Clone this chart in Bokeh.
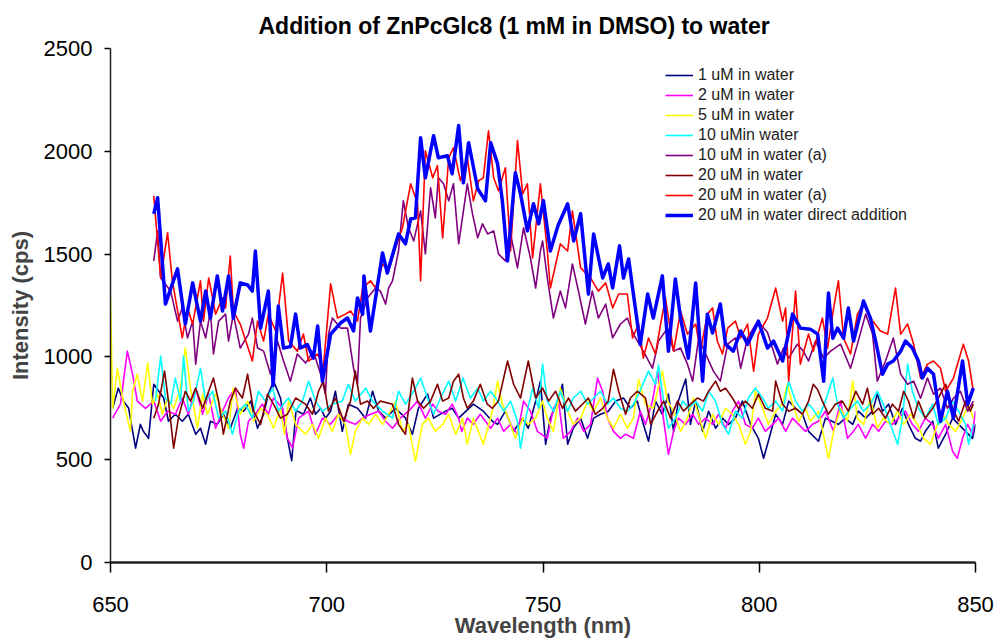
from bokeh.plotting import figure
from bokeh.models import Range1d, Legend, LegendItem, FixedTicker
from bokeh.embed import file_html
from bokeh.resources import INLINE

# ---------------- data ----------------
wl_1uM = [650.5, 651.8, 653, 654.2, 655.8, 656.9, 657.6, 658.8, 660, 662.3, 663.4, 665, 666.6, 668, 669.7, 670.8, 672, 673.1,
          674.7, 676.1, 677.7, 679.4, 680.8, 682.4, 684, 685.4, 686.5, 687.7, 689.3, 690.9, 691.9, 692.9, 694.6, 696.2, 697.4,
          698.6, 699.7, 700.9, 702, 703.6, 705, 707.1, 709, 710.6, 712, 713.6, 715.9, 718.2, 719.8, 721.2, 723.3, 724.7, 727.5,
          729, 730.5, 733.9, 736.2, 738.3, 739.5, 741.3, 743.2, 745.3, 746.6, 748.3, 749.4, 750.6, 751.7, 753.4, 754.5, 755.7,
          757, 758.7, 760.3, 761.7, 763.3, 765.1, 766.8, 768.6, 770.2, 771.8, 773, 774.4, 776, 777.6, 779, 780.2, 781.3, 783,
          784.1, 785.3, 786.9, 788.3, 789.9, 791.5, 792.9, 794.5, 796.1, 798, 799.8, 801, 802.1, 803.8, 805.4, 806.8, 808.4,
          810, 811.4, 813.7, 815.3, 818.3, 819.9, 821.6, 822.9, 824.6, 826.2, 827.3, 828.5, 829.9, 831.5, 833.1, 834.5, 836.1,
          837.3, 838.4, 840.1, 841.4, 843.1, 844.7, 846.1, 847.7, 849.3, 850]
int_1uM = [750, 848, 785, 750, 556, 672, 638, 604, 867, 800, 687, 721, 687, 721, 624, 653, 575, 687,
           672, 721, 653, 750, 736, 785, 653, 721, 819, 882, 800, 604, 495, 740, 721, 800, 721,
           750, 702, 736, 833, 638, 770, 750, 702, 833, 736, 702, 750, 702, 624, 750, 819, 702, 736,
           750, 702, 770, 736, 687, 672, 736, 638, 702, 653, 785, 882, 575, 702, 785, 867, 575,
           653, 702, 604, 702, 721, 736, 785, 800, 750, 785, 687, 590, 785, 721, 819, 638, 785, 892,
           672, 785, 638, 736, 653, 702, 672, 702, 785, 672, 604, 507, 590, 721, 672, 785, 750,
           721, 638, 590, 702, 672, 702, 672, 736, 702, 736, 819, 736, 770, 672, 750, 672, 604,
           590, 638, 687, 556, 624, 702, 672, 638, 604, 672]

wl_2uM = [650.5, 652.3, 653.9, 655.1, 656.2, 658.1, 660, 661.6, 663.2, 665, 666.6, 668, 669.7, 671.3, 672.7, 674.3, 675.9,
          677.3, 678.9, 680, 680.8, 681.9, 683.5, 685.1, 686.5, 687.7, 689.8, 690.9, 692.1, 693.5, 695.8, 697.4, 699, 700.9,
          702.7, 704.8, 706.6, 708.3, 710.1, 712, 713.6, 715.2, 717, 718.9, 721, 722.8, 724.5, 725.8, 727.5, 729, 730.5,
          731.2, 732.5, 733.9, 735.5, 737.9, 739.5, 740.9, 742.5, 744.1, 745.5, 747.1, 748.7, 751, 752.4, 753.6, 754.7, 756.4,
          758, 759.4, 761, 762.6, 763.8, 764.9, 766.3, 767.9, 769.1, 770.9, 772.5, 773.7, 775.3, 776.5, 777.6, 779, 780.2,
          781.3, 783, 784.6, 786, 787.6, 789.2, 790.6, 792.2, 793.8, 795.2, 796.8, 798.4, 799.8, 801.4, 803.1, 804.5, 806.1,
          807.7, 809.1, 810.7, 812.3, 813.7, 815.3, 817.2, 818.8, 820.4, 821.8, 822.9, 824.6, 826.2, 827.6, 829.2, 830.8,
          832.2, 833.8, 835.4, 836.8, 838.4, 840.1, 841.4, 843.1, 844.7, 845.8, 847, 848.2, 849.3, 850]
int_2uM = [702, 770, 1028, 916, 785, 750, 785, 687, 736, 721, 800, 721, 848, 721, 819, 653, 736,
           800, 848, 624, 556, 687, 721, 770, 721, 800, 750, 604, 556, 702, 736, 624, 702, 672,
           721, 687, 672, 702, 721, 736, 687, 653, 702, 736, 785, 702, 770, 736, 721, 770, 702,
           638, 702, 672, 721, 653, 702, 638, 672, 624, 785, 736, 638, 604, 750, 785, 604, 638,
           702, 638, 672, 897, 833, 702, 638, 604, 624, 604, 736, 672, 785, 931, 736, 526, 638,
           702, 672, 721, 672, 702, 672, 721, 653, 736, 785, 672, 653, 702, 638, 672, 702, 638,
           702, 672, 638, 672, 687, 736, 638, 785, 604, 638, 672, 604, 672, 638, 687, 672,
           702, 736, 672, 638, 702, 672, 604, 672, 541, 507, 604, 672, 624, 736]

wl_5uM = [650, 650.5, 651.6, 652.8, 654.6, 655.1, 656.2, 657.4, 658.6, 659.7, 660.9, 662, 663.2, 664.6, 666.2, 667.3, 668.5,
          670.1, 671.3, 672.4, 674.3, 675.9, 677.3, 678.4, 680, 681.7, 683.1, 684.7, 686.3, 687.7, 689.3, 690.2, 691.2, 692.8,
          695.1, 696.7, 698.1, 699.7, 701.3, 702.7, 704.3, 705.5, 706.6, 708.3, 709.7, 711.3, 712.9, 714.3, 715.9, 717.5,
          718.9, 720.5, 722.1, 723.5, 725.1, 726.8, 728.2, 729.8, 731.4, 732.5, 733.9, 736.2, 738.3, 739.5, 740.6, 742, 743.6,
          745.3, 746.6, 748.3, 749.9, 751, 752.4, 754, 755.7, 757, 758.7, 760.3, 761.7, 763.3, 764.9, 766.3, 767.9, 769.5,
          770.9, 772.1, 773.7, 775.5, 777.6, 778.8, 780.2, 781.8, 783.4, 784.8, 786.4, 787.6, 789.2, 790.6, 792.2, 793.8,
          795.2, 796.8, 798, 799.1, 800.8, 802.1, 803.8, 805.4, 806.5, 807.7, 809.1, 810.7, 811.8, 813.7, 815.3, 816, 817.2,
          818.8, 820.4, 821.6, 822.7, 824.1, 825.7, 827.3, 828.7, 830.3, 832, 833.4, 835, 836.6, 838, 839.6, 841.2, 842.4,
          843.8, 845.4, 847, 848.4, 849.5]
int_5uM = [1290, 750, 945, 800, 638, 833, 916, 785, 970, 770, 819, 721, 800, 750, 848, 1043, 848,
           653, 819, 721, 819, 721, 653, 848, 721, 785, 687, 750, 721, 653, 750, 624, 785, 672,
           624, 672, 604, 702, 638, 721, 672, 526, 638, 702, 672, 721, 672, 721, 785, 638,
           672, 492, 672, 702, 638, 672, 721, 624, 702, 575, 702, 575, 736, 882, 770, 702, 604,
           702, 672, 702, 785, 702, 638, 848, 736, 672, 702, 785, 736, 800, 702, 653, 721, 653,
           702, 890, 770, 750, 931, 785, 736, 638, 702, 800, 687, 604, 721, 672, 750, 721,
           672, 575, 638, 833, 750, 672, 736, 770, 867, 770, 687, 750, 687, 736, 575, 507, 638,
           750, 687, 882, 702, 672, 800, 653, 702, 672, 736, 672, 721, 672, 604, 575, 672, 721,
           672, 638, 702, 770, 702]

wl_10uM = [660.4, 661.6, 662.7, 663.9, 665, 666.2, 666.9, 668, 669.2, 670.8, 672, 673.6, 675, 676.6, 678.2, 679.6, 681.2,
           682.8, 684.2, 685.8, 687.5, 688.8, 690.5, 691.2, 692.8, 694.4, 695.8, 697.4, 699, 701.3, 703.6, 705, 706.6, 709,
           710.6, 712.9, 715.2, 716.6, 718.2, 720.1, 721.7, 723.3, 724.7, 726.3, 728.2, 729.8, 731.5, 733.2, 734.9, 736.2,
           737.9, 739.5, 740.9, 742.5, 744.1, 744.8, 746, 747.6, 749, 749.9, 751, 752.4, 754, 755.7, 757, 758.7, 760.3, 761.7,
           763.3, 764.9, 766.3, 767.9, 769.5, 770.9, 772.1, 774.4, 776, 776.7, 777.9, 779, 780.6, 782.3, 783.6, 785.3, 786.9,
           788.3, 789.9, 791.5, 792.9, 794.5, 796.1, 797.5, 799.1, 800.8, 802.1, 803.8, 805.4, 806.8, 808.4, 810, 811.4,
           812.3, 813.7, 815.3, 817, 818.1, 819.5, 821.1, 822.7, 824.1, 825.7, 827.3, 828.7, 830.3, 832, 833.1, 834.3, 835.4,
           836.8, 838.4, 840.1, 841.4, 843.1, 844.7, 846.1, 847.7, 848.4, 849.5]
int_10uM = [785, 1004, 800, 770, 897, 785, 1004, 736, 785, 945, 785, 833, 702, 736, 624, 736, 770,
            702, 833, 785, 848, 736, 785, 800, 736, 785, 882, 785, 736, 770, 785, 867, 785, 848,
            785, 736, 702, 833, 770, 833, 897, 800, 721, 800, 882, 785, 897, 800, 848, 785,
            833, 785, 736, 785, 687, 556, 702, 848, 750, 965, 785, 736, 833, 736, 800, 833, 770, 800,
            833, 770, 800, 750, 736, 770, 819, 931, 867, 960, 785, 653, 702, 785, 750, 785, 736,
            833, 785, 672, 624, 736, 702, 800, 848, 800, 750, 785, 736, 882, 785, 736, 770,
            750, 702, 785, 897, 770, 702, 750, 785, 736, 770, 833, 770, 672, 575, 702, 965, 833,
            750, 702, 770, 672, 702, 785, 736, 672, 575, 672]

wl_10uMa = [660, 660.9, 661.6, 663.9, 665.5, 666.6, 667.8, 669, 669.7, 670.8, 672, 673.1, 673.8, 675, 676.6, 677.3, 678.4,
            680, 681.9, 682.8, 684, 685.4, 687, 688.6, 690, 691.6, 693.2, 695.1, 696.9, 698.6, 699.7, 700.4, 701.3, 703.2,
            704.8, 706.2, 707.1, 707.8, 709.4, 711.3, 712.4, 713.6, 714.3, 715.2, 716.6, 717.7, 718.9, 720.1, 721.7, 722.8,
            724, 725.1, 725.8, 727, 728.2, 729.3, 730.5, 732.5, 733.7, 734.9, 736, 737.2, 738.6, 739.7, 741.3, 742.5, 744.1,
            745.5, 747.1, 748.3, 749.4, 749.9, 751, 752.4, 754, 755.2, 756.8, 758.2, 759.8, 761.4, 762.8, 764.5, 766.1,
            767.9, 769.5, 770.9, 773.2, 775.3, 776.7, 778.8, 780.2, 781.8, 783.4, 784.6, 786, 787.6, 789.4, 791, 792.7,
            794.5, 795.7, 797.3, 799.6, 801.9, 804.2, 805.6, 806.8, 808.8, 810.2, 811.4, 813, 814.9, 816.5, 818.8, 821.1,
            822.7, 824.6, 826.2, 827.3, 829.2, 831, 832.7, 834.3, 835.7, 837.3, 838.9, 840.3, 841.9, 843.5, 844.9, 846.5,
            848.2, 849.5]
int_10uMa = [1467, 1613, 1384, 1320, 1174, 1238, 1092, 1174, 965, 1174, 1092, 1223, 1014, 1174, 1208, 1077, 1208,
             1043, 1111, 1189, 1043, 1028, 916, 1077, 980, 882, 1014, 970, 1028, 916, 819, 1111, 1189, 1140,
             1140, 945, 867, 1189, 1287, 1335, 1320, 1257, 1335, 1370, 1515, 1759, 1628, 1564, 1710, 1501,
             1823, 1676, 1871, 1842, 1759, 1842, 1550, 1842, 1696, 1579, 1647, 1598, 1613, 1501, 1467, 1598, 1433,
             1628, 1481, 1335, 1515, 1564, 1384, 1189, 1320, 1238, 1452, 1320, 1160, 1320, 1189, 1257, 1092,
             1160, 1189, 1111, 1028, 945, 1077, 1140, 1028, 1043, 965, 882, 1092, 1014, 931, 882, 1062,
             1092, 945, 1092, 1174, 1120, 965, 1043, 994, 1062, 1028, 980, 1077, 994, 1028, 1062, 945,
             1062, 1208, 1111, 882, 980, 1092, 916, 867, 882, 799, 897, 819, 848, 750, 799, 833,
             736, 785]

wl_20uM = [660, 661.1, 662.5, 663.4, 664.6, 665.7, 667.3, 668.5, 669.7, 671.3, 672.7, 673.8, 675, 676.1, 677.7, 678.9,
           680.5, 681.7, 683.1, 684.7, 686.3, 687.7, 689.3, 690.9, 692.8, 695.1, 696.7, 698.1, 699.2, 700.4, 702, 703.9,
           705.5, 706.6, 707.8, 709.4, 710.8, 712.4, 715.2, 716.6, 718.2, 719.8, 721, 722.4, 724, 725.6, 726.8, 728.2,
           729.3, 730.5, 731.6, 732.5, 733.9, 735.5, 737.1, 738.3, 739.7, 741.8, 743.2, 744.8, 746.6, 748.3, 749.9, 751.3,
           752.9, 754.5, 755.9, 757.5, 759.1, 760.5, 762.1, 763.8, 765.1, 766.3, 767.5, 769.1, 770.2, 771.8, 773.7, 774.9,
           776.5, 777.9, 779.5, 781.1, 782.5, 784.1, 785.7, 787.1, 788.3, 789.9, 791, 792.2, 793.8, 795.2, 796.8, 798.4,
           799.8, 801.4, 803.1, 803.8, 805.4, 806.8, 808.4, 810, 811.4, 812.5, 813.5, 814.6, 816, 817.6, 819.2, 820.6,
           822.3, 823.9, 825, 826.2, 827.6, 829.2, 830.8, 832.2, 833.4, 834.5, 835.7, 836.8, 838.4, 840.1, 841.4, 843.1,
           844.7, 846.1, 847.7, 848.8, 849.5]
int_20uM = [702, 770, 931, 785, 556, 702, 833, 785, 848, 750, 833, 897, 785, 624, 785, 848,
            800, 916, 736, 672, 819, 770, 702, 721, 800, 770, 721, 833, 882, 736, 800, 687,
            785, 931, 770, 785, 750, 785, 770, 672, 624, 897, 785, 750, 785, 867, 785, 800,
            882, 916, 800, 750, 785, 867, 770, 750, 785, 980, 867, 800, 980, 800, 848, 785,
            833, 750, 800, 736, 770, 800, 721, 750, 785, 940, 833, 721, 800, 833, 800, 672,
            736, 785, 702, 785, 736, 770, 800, 785, 833, 882, 833, 848, 800, 750, 785, 750,
            819, 750, 736, 882, 770, 736, 750, 721, 785, 867, 840, 785, 721, 770, 785, 736,
            833, 770, 848, 721, 750, 702, 770, 736, 833, 785, 702, 785, 702, 750, 800, 867,
            750, 687, 785, 736, 770]

wl_20uMa = [660, 661.6, 663.2, 664.3, 666.6, 667.8, 669, 670.8, 671.5, 672.7, 674.3, 675.9, 676.6, 677.7, 678.4, 680,
            682.8, 684, 685.4, 686.5, 688.2, 689.8, 691.2, 693.2, 694.6, 695.8, 697.9, 699.2, 700.9, 702.5, 704.3, 705.5,
            707.1, 708.3, 710.1, 711.3, 712.9, 714.3, 715.9, 717.5, 719.4, 721, 721.7, 722.8, 724.5, 725.6, 726.8, 728.2,
            729.3, 730.9, 732.5, 733.9, 735.1, 736.2, 737.4, 738.6, 739.7, 741.3, 742.5, 744.1, 745.3, 746.4, 747.6, 749.4,
            751, 751.7, 754, 755.7, 756.8, 758.7, 761, 762.8, 764.5, 766.1, 767.5, 769.5, 770.7, 772.1, 773.2, 774.4, 776,
            777.2, 778.3, 780.2, 781.8, 783.4, 785.3, 786.4, 788, 789.2, 790.3, 791.5, 792.7, 794.5, 795.7, 797.3, 798.7,
            799.8, 801.9, 803.8, 805.4, 806.1, 806.8, 808.4, 809.5, 811.4, 812.5, 814.6, 815.8, 817.2, 818.3, 819.5, 821.1,
            822.7, 824.1, 825.7, 828, 829.7, 831.5, 832.7, 834.3, 835.7, 837.3, 838.9, 840.3, 841.9, 843.1, 844.9, 847.2,
            848.4, 849.5]
int_20uMa = [1784, 1384, 1603, 1370, 1092, 1238, 1160, 1370, 1174, 1384, 1208, 1287, 1238, 1491, 1223, 1160,
             980, 1174, 1077, 1208, 1126, 1408, 1077, 1028, 1111, 980, 1014, 945, 1355, 1189, 1208, 1223,
             1174, 1335, 1370, 1335, 1452, 1418, 1530, 1628, 1842, 1745, 1370, 2003, 1871, 1930, 1579, 1969,
             2017, 1857, 1969, 1759, 1857, 1871, 2100, 1871, 1808, 1920, 1515, 2052, 1793, 1842, 1481, 1842,
             1515, 1335, 1550, 1515, 1710, 1433, 1384, 1320, 1360, 1238, 1306, 1306, 1092, 1160, 994, 1092, 1014,
             1160, 1287, 1028, 1223, 1111, 1160, 1028, 1208, 1238, 1077, 1014, 1140, 1174, 1092, 1160, 931,
             1111, 1189, 1335, 1174, 1238, 882, 1320, 965, 1111, 1028, 1189, 1043, 1238, 1370, 1091, 1014,
             1208, 1257, 1189, 1126, 1111, 1335, 1111, 1160, 1062, 897, 965, 980, 945, 833, 897, 1062,
             980, 833]

wl_direct = [660, 660.9, 662.7, 665.5, 667.3, 669, 670.8, 672, 673.1, 674.7, 675.9, 677.3, 678.4, 680, 681.7, 682.8,
             683.5, 684.7, 686.5, 687.6, 688.8, 690, 691.6, 692.8, 693.9, 695.5, 696.9, 697.9, 699, 700.9, 703.2, 704.8,
             706.2, 707.1, 708.3, 708.6, 710.1, 712.9, 714, 716.6, 718.2, 719.4, 720.5, 721.7, 722.8, 724.7, 725.8, 727.9,
             729, 730.5, 731.6, 732.8, 734.9, 736.7, 737.9, 739.5, 740.6, 741.8, 743.6, 744.8, 746.4, 747.8, 749, 750.1,
             751.7, 753.5, 755.7, 757.1, 758.7, 760.5, 761.7, 763.8, 765.1, 766.1, 767.7, 768.6, 769.8, 770.9, 772.5, 774.2,
             775.5, 777.6, 779, 780.6, 781.8, 783.6, 785.3, 786.9, 788, 789.2, 791, 792.2, 794, 795.7, 797.3, 799.8, 801.9,
             803.3, 805.4, 807.7, 809.5, 811.8, 813.5, 814.9, 816, 817, 818.1, 819.5, 820.6, 821.8, 824.1, 825.7, 826.9,
             828.5, 829.7, 831, 832.7, 833.8, 835.4, 836.8, 837.7, 838.9, 840.3, 841.9, 843.5, 844.9, 847, 848.2, 849.5]
int_direct = [1696, 1774, 1257, 1428, 1160, 1360, 1174, 1320, 1189, 1394, 1223, 1394, 1189, 1360, 1350, 1320,
              1515, 1140, 1320, 860, 1247, 1043, 1050, 1208, 1043, 1060, 994, 1150, 882, 1111, 1165, 1189,
              1126, 1287, 1208, 1394, 1126, 1506, 1408, 1598, 1550, 1671, 1676, 2066, 1871, 2076, 1969, 1978,
              1891, 2125, 1847, 2042, 1818, 1759, 2042, 1939, 1759, 1467, 1896, 1793, 1613, 1745, 1647, 1760,
              1515, 1640, 1745, 1564, 1696, 1306, 1598, 1384, 1452, 1335, 1540, 1384, 1476, 1306, 1062, 1306,
              1189, 1394, 1028, 1379, 1189, 994, 1360, 882, 1208, 1116, 1257, 1062, 1028, 1126, 1062, 1174, 1043,
              1077, 980, 1208, 1140, 1135, 1111, 882, 1311, 1091, 1140, 1091, 1238, 1077, 1272, 1189, 1077,
              916, 965, 980, 1028, 1077, 1043, 980, 897, 945, 916, 687, 833, 702, 980, 770, 848]

series_labels = ["1 uM in water", "2 uM in water", "5 uM in water", "10 uMin water", "10 uM in water (a)",
                 "20 uM in water", "20 uM in water (a)", "20 uM in water direct addition"]
x_ticks = [650, 700, 750, 800, 850]
y_ticks = [0, 500, 1000, 1500, 2000, 2500]

# ---------------- figure ----------------
FONT = "Liberation Sans"
p = figure(width=995, height=640, output_backend="svg", toolbar_location=None,
           x_range=Range1d(650, 850), y_range=Range1d(0, 2500),
           min_border_left=110, min_border_right=20, min_border_top=48, min_border_bottom=78)
p.outline_line_color = None
p.xgrid.grid_line_color = None
p.ygrid.grid_line_color = None
p.background_fill_color = "white"
p.border_fill_color = "white"

p.title.text = "Addition of ZnPcGlc8 (1 mM in DMSO) to water"
p.title.align = "left"
p.title.offset = 148
p.title.standoff = 19
p.title.text_font = FONT
p.title.text_font_size = "23px"
p.title.text_font_style = "bold"
p.title.text_color = "black"

xa = p.xaxis[0]
xa.ticker = FixedTicker(ticks=x_ticks)
xa.minor_tick_line_color = None
xa.major_tick_out = 10
xa.major_tick_in = 0
xa.major_tick_line_width = 1.5
xa.axis_line_width = 2.5
xa.axis_line_color = "#222222"
xa.major_label_standoff = 24
xa.major_label_text_font = FONT
xa.major_label_text_font_size = "22px"
xa.major_label_text_color = "black"
xa.axis_label = "Wavelength (nm)"
xa.axis_label_text_font = FONT
xa.axis_label_text_font_size = "22px"
xa.axis_label_text_font_style = "bold"
xa.axis_label_standoff = -2

ya = p.yaxis[0]
ya.ticker = FixedTicker(ticks=y_ticks)
ya.minor_tick_line_color = None
ya.major_tick_out = 6
ya.major_tick_in = 0
ya.major_tick_line_width = 1.5
ya.axis_line_width = 1.5
ya.axis_line_color = "#222222"
ya.major_label_standoff = 12
ya.major_label_text_font = FONT
ya.major_label_text_font_size = "22px"
ya.major_label_text_color = "black"
ya.axis_label = "Intensity (cps)"
ya.axis_label_text_font = FONT
ya.axis_label_text_font_size = "22px"
ya.axis_label_text_font_style = "bold"
ya.axis_label_standoff = 8

specs = [
    (wl_1uM, int_1uM, "#000080", 1.6),
    (wl_2uM, int_2uM, "#FF00FF", 1.6),
    (wl_5uM, int_5uM, "#FFFF00", 1.6),
    (wl_10uM, int_10uM, "#00FFFF", 1.6),
    (wl_10uMa, int_10uMa, "#800080", 1.6),
    (wl_20uM, int_20uM, "#800000", 1.6),
    (wl_20uMa, int_20uMa, "#FF0000", 1.6),
    (wl_direct, int_direct, "#0000FF", 3.5),
]
items = []
for (xs, ys, col, lw), lab in zip(specs, series_labels):
    r = p.line(xs, ys, line_color=col, line_width=lw, line_join="round")
    items.append(LegendItem(label=lab, renderers=[r]))

legend = Legend(items=items, location=(555, 337), padding=0, margin=0, spacing=0,
                label_height=20, glyph_height=20, glyph_width=28, label_standoff=5,
                label_text_font=FONT, label_text_font_size="16px", label_text_color="#222222",
                border_line_alpha=0, background_fill_alpha=0)
p.add_layout(legend)

open("out.html", "w").write(file_html(p, INLINE))
